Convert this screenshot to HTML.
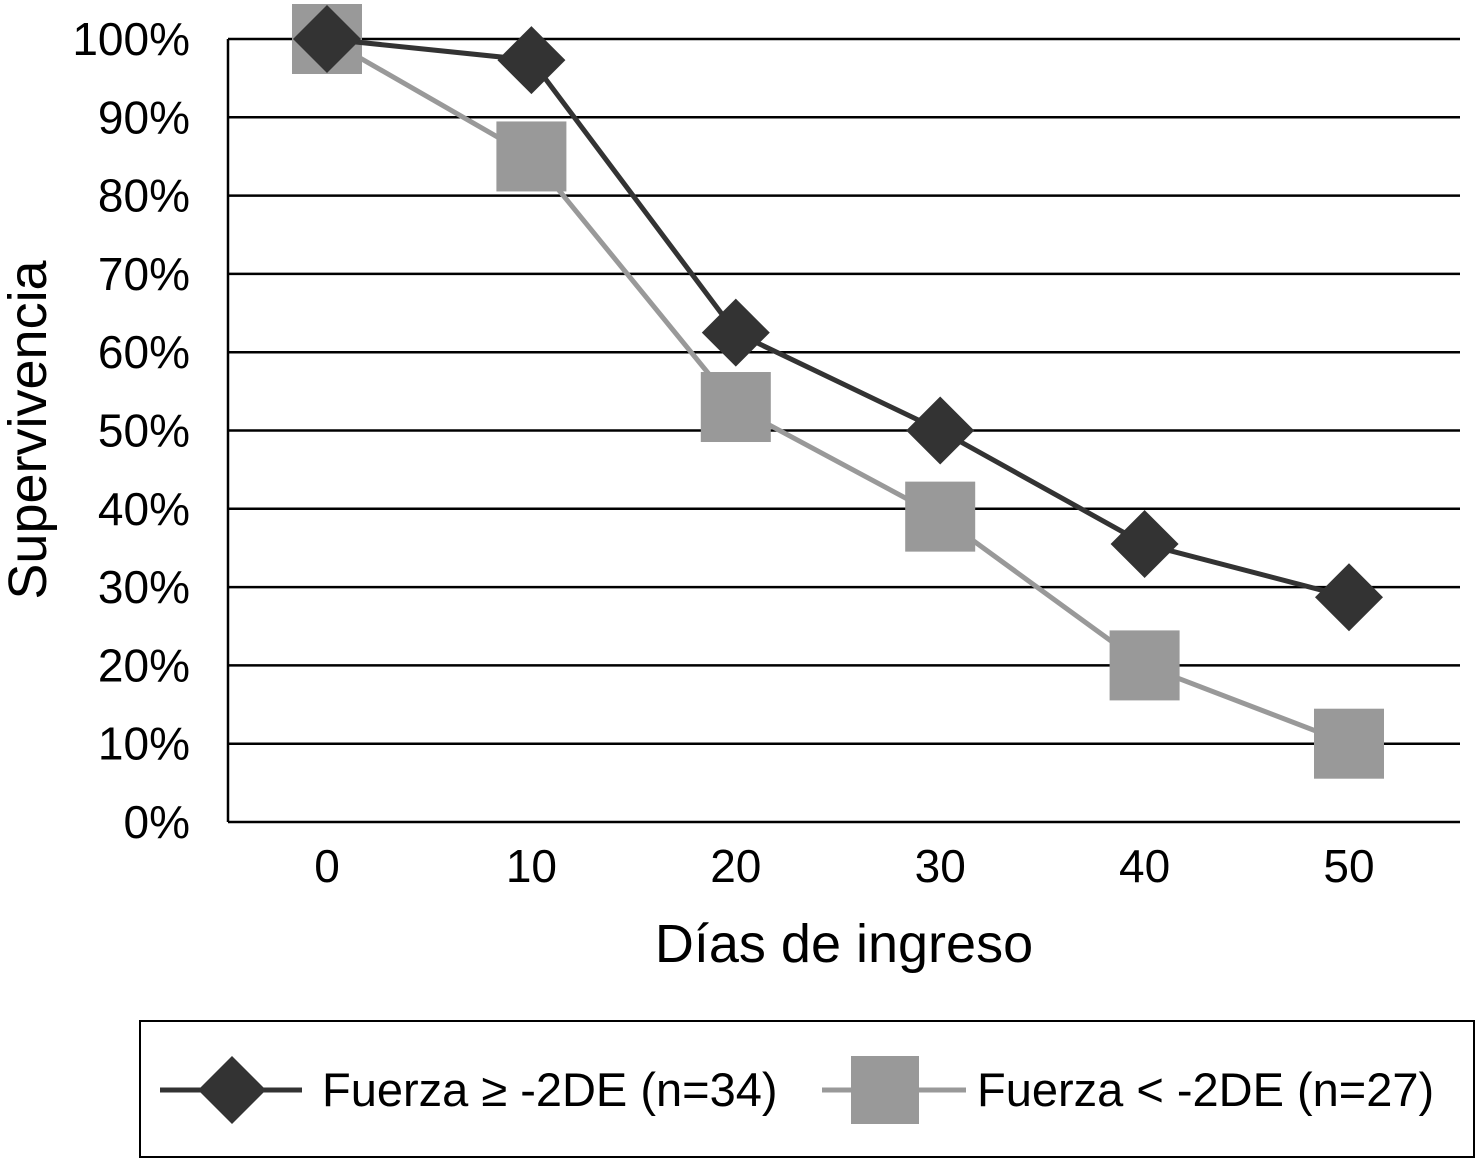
<!DOCTYPE html>
<html><head><meta charset="utf-8"><style>
body{margin:0;background:#fff;}
svg{display:block;font-family:"Liberation Sans",Arial,sans-serif;}
</style></head><body>
<svg id="chart" width="1479" height="1160" viewBox="0 0 1479 1160">
<g id="grid"></g><g id="axes"></g><g id="series"></g>
<text x="46" y="430" font-size="54" text-anchor="middle" transform="rotate(-90 46 430)" fill="#000">Supervivencia</text>
<text x="844" y="962" font-size="54" text-anchor="middle" fill="#000">Días de ingreso</text>
<g>
<rect x="140" y="1021" width="1334" height="136" fill="#fff" stroke="#000" stroke-width="2"/>
<g>
<line x1="160" y1="1090" x2="302" y2="1090" stroke="#333" stroke-width="5"/>
<polygon points="232,1056 266,1090 232,1124 198,1090" fill="#333"/>
<text x="322" y="1106" font-size="47" fill="#000">Fuerza ≥ -2DE (n=34)</text>
</g>
<g>
<line x1="822" y1="1090" x2="966" y2="1090" stroke="#999" stroke-width="5"/>
<rect x="851" y="1056" width="68" height="68" fill="#999"/>
<text x="977" y="1106" font-size="47" fill="#000">Fuerza &lt; -2DE (n=27)</text>
</g>
</g>
</svg>
<script>
const categories=["0","10","20","30","40","50"];
const seriesHigh=[100,97.3,62.5,50,35.5,28.7];
const seriesLow=[100,85,53,39,20,10];
const yTicks=[0,10,20,30,40,50,60,70,80,90,100];
const NS="http://www.w3.org/2000/svg";
const L=228,R=1460,T=39,B=822;
const band=204.4;
const xPos=i=>327+band*i;
const yPos=v=>B-(v/100)*(B-T);
function mk(tag,attrs,parent){const e=document.createElementNS(NS,tag);for(const k in attrs)e.setAttribute(k,attrs[k]);parent.appendChild(e);return e;}
const grid=document.getElementById('grid'),axes=document.getElementById('axes'),ser=document.getElementById('series');
yTicks.forEach(t=>{
  if(t>0){const g=mk('line',{x1:L,x2:R,y1:yPos(t),y2:yPos(t),stroke:'#000','stroke-width':2.5},grid);
  
  }
  const tx=mk('text',{x:190,y:yPos(t)+16,'font-size':46,'text-anchor':'end',fill:'#000'},axes);
  tx.textContent=t+'%';
  
  
});
const ya=mk('line',{x1:L,x2:L,y1:T,y2:B,stroke:'#000','stroke-width':2.5},axes);


const xa=mk('line',{x1:L,x2:R,y1:B,y2:B,stroke:'#000','stroke-width':2.5},axes);


categories.forEach((c,i)=>{
  const tx=mk('text',{x:xPos(i),y:882,'font-size':46,'text-anchor':'middle',fill:'#000'},axes);
  tx.textContent=c;
  
  
});
function drawSeries(vals,color,shape,name){
  const pts=vals.map((v,i)=>xPos(i)+','+yPos(v)).join(' ');
  const pl=mk('polyline',{points:pts,fill:'none',stroke:color,'stroke-width':5,'stroke-linejoin':'round'},ser);
  
  
  vals.forEach((v,i)=>{
    const x=xPos(i),y=yPos(v);let m;
    if(shape==='diamond'){m=mk('polygon',{points:`${x},${y-34} ${x+34},${y} ${x},${y+34} ${x-34},${y}`,fill:color},ser);}
    else{m=mk('rect',{x:x-35,y:y-35,width:70,height:70,fill:color},ser);}
    
    
  });
}
drawSeries(seriesLow,'#999','square','fuerza-lt');
drawSeries(seriesHigh,'#333','diamond','fuerza-ge');
</script>
</body></html>
